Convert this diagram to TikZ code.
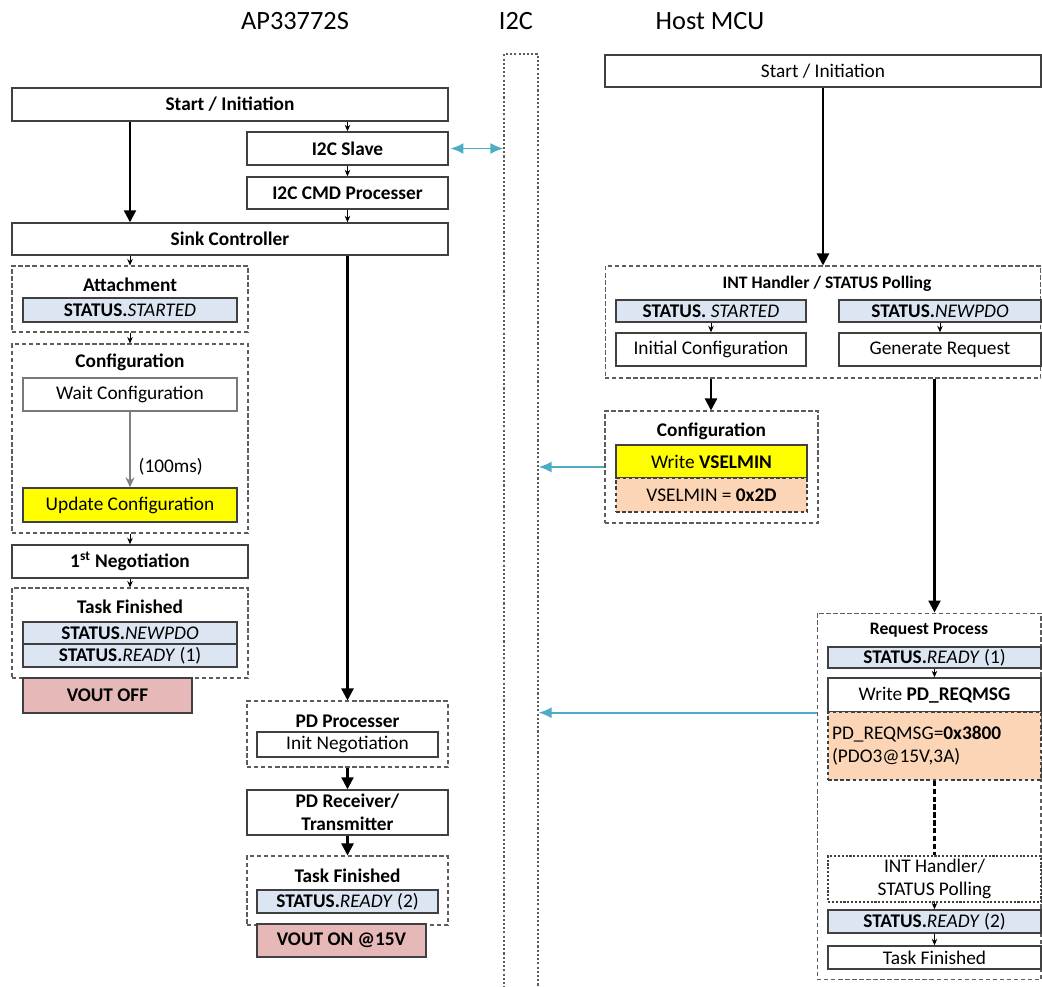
\documentclass[tikz,border=0pt]{standalone}
\usepackage{fontspec}
\setmainfont{Carlito}
\usetikzlibrary{arrows.meta, positioning}

\definecolor{statusblue}{RGB}{220,230,242}
\definecolor{cfgyellow}{RGB}{255,255,0}
\definecolor{peach}{RGB}{251,213,181}
\definecolor{voutred}{RGB}{230,185,184}
\definecolor{busteal}{RGB}{75,172,198}
\definecolor{boxline}{RGB}{64,64,64}

\tikzstyle{block} = [rectangle, draw=boxline, line width=0.8pt, fill=white, text centered, inner sep=0pt, font=\fontsize{11}{13}\selectfont]
\tikzstyle{bold} = [font=\fontsize{11}{13}\selectfont\bfseries]
\tikzstyle{status} = [block, fill=statusblue]
\tikzstyle{vout} = [block, fill=voutred, font=\fontsize{11}{13}\selectfont\bfseries]
\tikzstyle{group} = [rectangle, draw=boxline!85, dash pattern=on 2.5pt off 1.5pt, line width=0.6pt, inner sep=0pt]
\tikzstyle{lane} = [rectangle, draw=boxline!85, dash pattern=on 1.2pt off 1.2pt, line width=0.7pt, inner sep=0pt]
\tikzstyle{title} = [inner sep=0pt, font=\fontsize{11}{13}\selectfont\bfseries]
\tikzstyle{smalltitle} = [inner sep=0pt, font=\fontsize{10}{12}\selectfont\bfseries]
\tikzstyle{header} = [inner sep=0pt, font=\fontsize{15}{18}\selectfont]
\tikzstyle{arrow} = [line width=1.3pt, -{Triangle[length=0.24cm,width=0.24cm]}]
\tikzstyle{tick} = [line width=0.5pt, -{Stealth[length=1.3mm,width=1.1mm]}]
\tikzstyle{delay} = [line width=0.8pt, draw=gray, -{Stealth[length=2mm,width=1.8mm]}]
\tikzstyle{linkdash} = [line width=1.2pt, dash pattern=on 3pt off 1.5pt]
\tikzstyle{bus} = [line width=1.1pt, draw=busteal, {Latex[length=2.6mm,width=2.2mm]}-{Latex[length=2.6mm,width=2.2mm]}]
\tikzstyle{busto} = [line width=1.1pt, draw=busteal, -{Latex[length=2.6mm,width=2.2mm]}]

\begin{document}
\begin{tikzpicture}[x=0.02cm, y=-0.02cm]
    \useasboundingbox (0,0) rectangle (1042,987);

    % column headers
    \node (hdrchip) [header] at (295,21) {AP33772S};
    \node (hdrbus) [header] at (516,21) {I2C};
    \node (hdrhost) [header] at (710,21) {Host MCU};

    % I2C lane
    \node (i2c) [lane, minimum width=0.68cm, minimum height=18.88cm] at (521,526) {};

    % AP33772S side
    \node (startL) [block, bold, minimum width=8.72cm, minimum height=0.66cm] at (230,104.5) {Start / Initiation};
    \node (slave) [block, bold, minimum width=4.02cm, minimum height=0.66cm] at (347.5,148.5) {I2C Slave};
    \node (cmd) [block, bold, minimum width=4.02cm, minimum height=0.64cm] at (347.5,193) {I2C CMD Processer};
    \node (sink) [block, bold, minimum width=8.72cm, minimum height=0.64cm] at (230,239) {Sink Controller};

    \node (attach) [group, minimum width=4.72cm, minimum height=1.32cm] at (130,299) {};
    \node (attachT) [title] at (130,285) {Attachment};
    \node (startedL) [status, minimum width=4.28cm, minimum height=0.48cm] at (130,310) {\textbf{STATUS.}\textit{STARTED}};

    \node (config) [group, minimum width=4.72cm, minimum height=3.78cm] at (130,438.5) {};
    \node (configT) [title] at (130,362) {Configuration};
    \node (wait) [block, draw=boxline!70, minimum width=4.28cm, minimum height=0.66cm] at (130,394.5) {Wait Configuration};
    \node (update) [block, fill=cfgyellow, minimum width=4.28cm, minimum height=0.68cm] at (130,505) {Update Configuration};

    \node (nego) [block, bold, minimum width=4.72cm, minimum height=0.66cm] at (130,561.5) {1\textsuperscript{st} Negotiation};

    \node (taskL) [group, minimum width=4.72cm, minimum height=1.8cm] at (130,633) {};
    \node (taskLT) [title] at (130,607) {Task Finished};
    \node (newpdoL) [status, minimum width=4.28cm, minimum height=0.44cm] at (130,633) {\textbf{STATUS.}\textit{NEWPDO}};
    \node (ready1L) [status, minimum width=4.28cm, minimum height=0.46cm] at (130,655.5) {\textbf{STATUS.}\textit{READY} (1)};
    \node (voutoff) [vout, minimum width=3.38cm, minimum height=0.7cm] at (107.5,695.5) {VOUT OFF};

    \node (pdproc) [group, minimum width=4.02cm, minimum height=1.32cm] at (347.5,734) {};
    \node (pdprocT) [title] at (347.5,721) {PD Processer};
    \node (initneg) [block, minimum width=3.62cm, minimum height=0.5cm] at (347.5,744.5) {Init Negotiation};
    \node (pdrx) [block, bold, align=center, minimum width=4.02cm, minimum height=0.9cm] at (347.5,812.5) {PD Receiver/\\Transmitter};
    \node (taskM) [group, minimum width=4.02cm, minimum height=1.38cm] at (347.5,890.5) {};
    \node (taskMT) [title] at (347.5,876) {Task Finished};
    \node (ready2L) [status, minimum width=3.62cm, minimum height=0.46cm] at (347.5,901.5) {\textbf{STATUS.}\textit{READY} (2)};
    \node (vouton) [vout, minimum width=3.38cm, minimum height=0.66cm] at (341.5,940.5) {VOUT ON @15V};

    % Host MCU side
    \node (startR) [block, minimum width=8.72cm, minimum height=0.64cm] at (823,71) {Start / Initiation};

    \node (inth) [group, minimum width=8.72cm, minimum height=2.24cm] at (823,322) {};
    \node (inthT) [smalltitle] at (827,284) {INT Handler / STATUS Polling};
    \node (startedR) [status, minimum width=3.8cm, minimum height=0.44cm] at (711,311) {\textbf{STATUS.} \textit{STARTED}};
    \node (newpdoR) [status, minimum width=4.04cm, minimum height=0.44cm] at (940,311) {\textbf{STATUS.}\textit{NEWPDO}};
    \node (initcfg) [block, minimum width=3.8cm, minimum height=0.66cm] at (711,349.5) {Initial Configuration};
    \node (genreq) [block, minimum width=4.04cm, minimum height=0.66cm] at (940,349.5) {Generate Request};

    \node (cfgR) [group, minimum width=4.26cm, minimum height=2.24cm] at (711.5,467) {};
    \node (cfgRT) [title] at (711.5,431) {Configuration};
    \node (writev) [block, fill=cfgyellow, minimum width=3.82cm, minimum height=0.66cm] at (711.5,461.5) {Write \textbf{VSELMIN}};
    \node (vsel) [block, fill=peach, dash pattern=on 2pt off 1.5pt, minimum width=3.82cm, minimum height=0.68cm] at (711.5,495) {VSELMIN = \textbf{0x2D}};

    \node (req) [group, minimum width=4.48cm, minimum height=7.34cm] at (929,796.5) {};
    \node (reqT) [smalltitle] at (929,630) {Request Process};
    \node (ready1R) [status, minimum width=4.26cm, minimum height=0.42cm] at (934.5,657.5) {\textbf{STATUS.}\textit{READY} (1)};
    \node (writepd) [block, minimum width=4.26cm, minimum height=0.68cm] at (934.5,695) {Write \textbf{PD\_REQMSG}};
    \node (reqmsg) [block, fill=peach, dash pattern=on 2pt off 1.5pt, align=left, text width=4.1cm, inner xsep=0.08cm, minimum height=1.36cm] at (934.5,746) {PD\_REQMSG=\textbf{0x3800}\\(PDO3@15V,3A)};
    \node (inth2) [block, dash pattern=on 1.2pt off 1pt, align=center, minimum width=4.26cm, minimum height=0.92cm] at (934.5,879) {INT Handler/\\STATUS Polling};
    \node (ready2R) [status, minimum width=4.26cm, minimum height=0.46cm] at (934.5,921.5) {\textbf{STATUS.}\textit{READY} (2)};
    \node (taskR) [block, minimum width=4.26cm, minimum height=0.46cm] at (934.5,957.5) {Task Finished};

    % flow on AP33772S side
    \draw [arrow] (startL.south -| attach.north) -- (sink.north -| attach.north);
    \draw [tick] (startL.south -| slave.north) -- (slave.north);
    \draw [tick] (slave) -- (cmd);
    \draw [tick] (cmd) -- (sink.north -| cmd.south);
    \draw [tick] (sink.south -| attach.north) -- (attach);
    \draw [tick] (attach) -- (config);
    \draw [delay] (wait) -- node[pos=0.73, right, inner sep=0pt, xshift=0.16cm, font=\fontsize{11}{13}\selectfont] {(100ms)} (update);
    \draw [tick] (config) -- (nego);
    \draw [tick] (nego) -- (taskL);
    \draw [arrow] (sink.south -| pdproc.north) -- (pdproc);
    \draw [arrow] (pdproc) -- (pdrx);
    \draw [arrow] (pdrx) -- (taskM);

    % flow on Host MCU side
    \draw [arrow] (startR) -- (inth);
    \draw [tick] (startedR) -- (initcfg);
    \draw [tick] (newpdoR) -- (genreq);
    \draw [arrow] (inth.south -| initcfg.south) -- (cfgR.north -| initcfg.south);
    \draw [arrow] (inth.south -| writepd.north) -- (req.north -| writepd.north);
    \draw [tick] (ready1R) -- (writepd);
    \draw [linkdash] (reqmsg) -- (inth2);
    \draw [tick] (inth2) -- (ready2R);
    \draw [tick] (ready2R) -- (taskR);

    % I2C traffic
    \draw [bus, shorten <=1pt] (slave.east) -- (slave.east -| i2c.west);
    \draw [busto] (cfgR.west) -- (cfgR.west -| i2c.east);
    \draw [busto] (writepd.south -| req.west) -- (writepd.south -| i2c.east);
\end{tikzpicture}
\end{document}
